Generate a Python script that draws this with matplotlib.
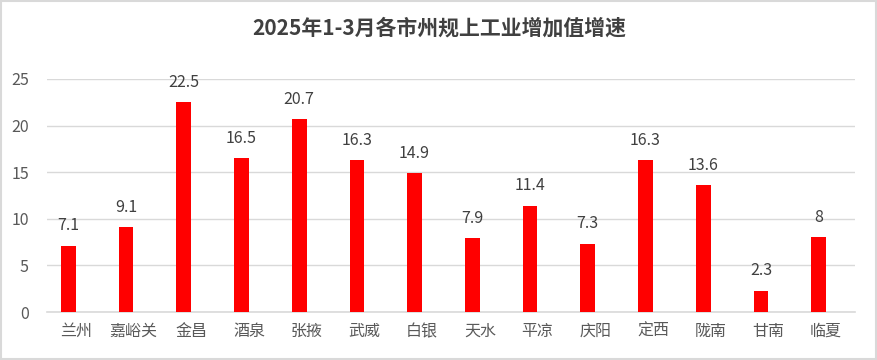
import matplotlib
matplotlib.use('Agg')
import matplotlib.pyplot as plt
import numpy as np

plt.rcParams['font.family'] = ['Noto Sans CJK SC', 'DejaVu Sans']

cities = ['兰州', '嘉峪关', '金昌', '酒泉', '张掖', '武威', '白银',
          '天水', '平凉', '庆阳', '定西', '陇南', '甘南', '临夏']
growth = [7.1, 9.1, 22.5, 16.5, 20.7, 16.3, 14.9,
          7.9, 11.4, 7.3, 16.3, 13.6, 2.3, 8]
labels = ['7.1', '9.1', '22.5', '16.5', '20.7', '16.3', '14.9',
          '7.9', '11.4', '7.3', '16.3', '13.6', '2.3', '8']
yticks = [0, 5, 10, 15, 20, 25]

fig = plt.figure(figsize=(8.78, 3.6), dpi=100)
ax = fig.add_axes([0.0535, 0.1333, 0.9203, 0.6473])

x = np.arange(len(cities))
bar_x = x - 0.13   # bars sit slightly left of the category centre
ax.bar(bar_x, growth, width=0.254, color='#ff0000', zorder=3)
for xi, v, lab in zip(bar_x, growth, labels):
    ax.text(xi, v + 2.15, lab, ha='center', va='center', fontsize=11.5,
            color='#404040')

ax.set_xlim(-0.5, len(cities) - 0.5)
ax.set_ylim(0, 25)
ax.set_yticks(yticks)
ax.set_xticks(x)
ax.set_xticklabels(cities)
ax.tick_params(axis='both', length=0, labelsize=11.5, labelcolor='#595959')
ax.tick_params(axis='x', pad=8)
ax.tick_params(axis='y', pad=13)
ax.grid(axis='y', color='#d9d9d9', linewidth=1, zorder=0)
for s in ['top', 'right', 'left']:
    ax.spines[s].set_visible(False)
ax.spines['bottom'].set_color('#d9d9d9')
ax.spines['bottom'].set_linewidth(1.2)

fig.text(0.5, 0.922, '2025年1-3月各市州规上工业增加值增速', ha='center', va='center',
         fontsize=15, fontweight='bold', color='#404040')

# outer border
fig.patches.append(plt.Rectangle((0.001, 0.002), 0.997, 0.995, transform=fig.transFigure,
                                 fill=False, edgecolor='#d9d9d9', linewidth=1.5))

fig.savefig('out.png', dpi=100)
